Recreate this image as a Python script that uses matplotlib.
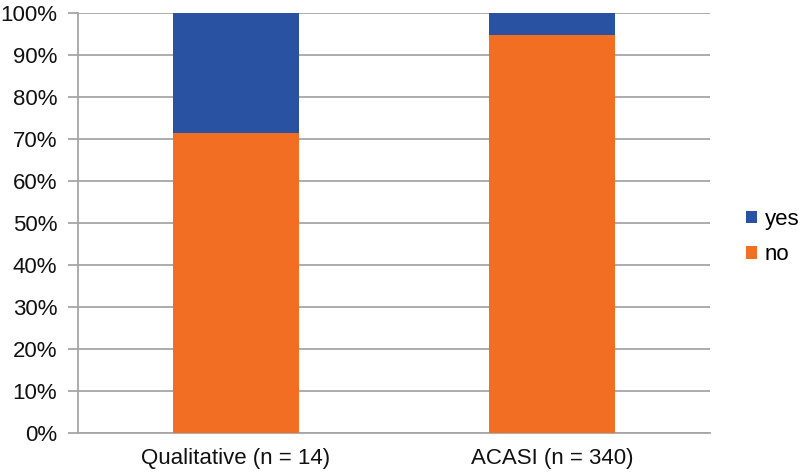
import matplotlib
matplotlib.use("Agg")
import matplotlib.pyplot as plt
from matplotlib.patches import Patch
from matplotlib.ticker import FuncFormatter

categories = ["Qualitative (n = 14)", "ACASI (n = 340)"]
no_vals = [71.4, 94.7]
yes_vals = [28.6, 5.3]
series_names = ["yes", "no"]

plt.rcParams['font.family'] = ['Liberation Sans', 'DejaVu Sans']

blue = "#2A52A2"
orange = "#F26E22"
grid_c = "#A6A6A6"
fs = 16.0

fig = plt.figure(figsize=(8, 4.74), dpi=100)
ax = fig.add_axes([78/800, 1-433/474, (710-78)/800, (433-13)/474])

x = list(range(len(categories)))
ax.bar(x, no_vals, width=0.4, color=orange, zorder=3)
ax.bar(x, yes_vals, width=0.4, bottom=no_vals, color=blue, zorder=3)

ax.set_xlim(-0.5, 1.5)
ax.set_ylim(0, 100)
ax.set_yticks(range(0, 101, 10))
ax.yaxis.set_major_formatter(FuncFormatter(lambda v, p: f"{int(v)}%"))
ax.set_xticks(x)
ax.set_xticklabels(categories)
ax.yaxis.grid(True, color=grid_c, linewidth=1.3, zorder=0)
ax.set_axisbelow(True)
for s in ["top", "right"]:
    ax.spines[s].set_visible(False)
for s in ["left", "bottom"]:
    ax.spines[s].set_color(grid_c)
    ax.spines[s].set_linewidth(1.3)
ax.tick_params(axis='y', length=7, width=1.3, color=grid_c, labelsize=fs, pad=8, labelcolor="#111111")
ax.tick_params(axis='x', length=0, labelsize=fs, pad=11, labelcolor="#111111")

handles = [Patch(facecolor=blue), Patch(facecolor=orange)]
fig.legend(handles, series_names, loc="center left", bbox_to_anchor=(746/800, 1-237/474),
           frameon=False, fontsize=fs, handlelength=0.5, handleheight=0.5,
           handletextpad=0.35, labelspacing=0.65, borderpad=0, borderaxespad=0)

fig.savefig("out.png", dpi=100)
